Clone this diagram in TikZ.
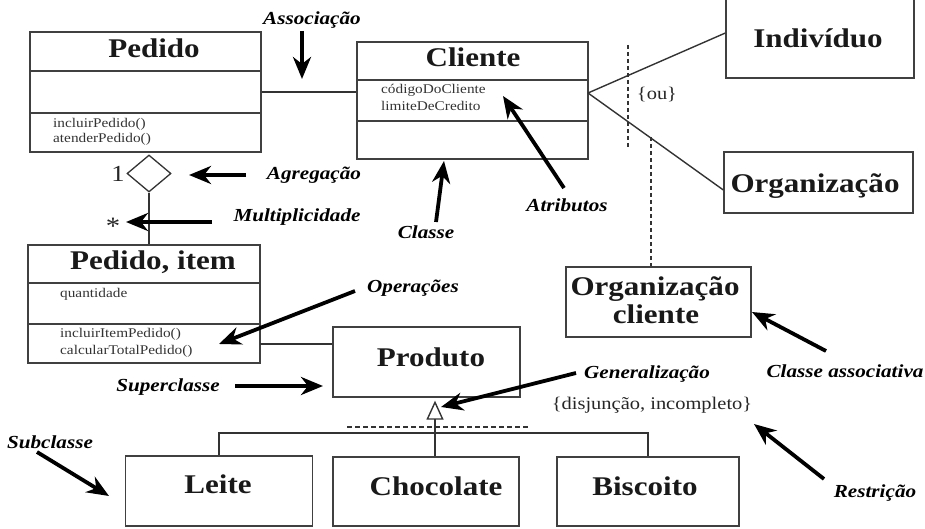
\documentclass[tikz,border=0pt]{standalone}
\usepackage{fontspec}
\setmainfont[FakeStretch=1.15]{Liberation Serif}
\usetikzlibrary{arrows.meta,shapes.geometric,calc}

\begin{document}
\begin{tikzpicture}[x=1pt,y=-1pt,
  line/.style={draw=black!75, line width=1.3pt},
  cls/.style={line, inner sep=0pt},
  title/.style={anchor=base, inner sep=0pt, font=\fontsize{27}{29}\selectfont\bfseries, text=black!90},
  member/.style={anchor=base west, inner sep=0pt, font=\fontsize{13.3}{15}\selectfont, text=black!80},
  note/.style={inner sep=0pt, font=\fontsize{18.4}{20}\selectfont\bfseries\itshape},
  cons/.style={inner sep=0pt, font=\fontsize{17.8}{19}\selectfont, text=black!85},
  pointer/.style={line width=3.8pt, -{Stealth[length=22pt,width=18pt,inset=7pt]}},
  link/.style={draw=black!80, line width=1.4pt},
  dashline/.style={draw=black!80, line width=1.6pt, dash pattern=on 4pt off 3pt},
  gen/.style={link, -{Triangle[open,length=19pt,width=17pt,fill=white]}, shorten >=3pt}]

\useasboundingbox (0,0) rectangle (925,529);
\clip (0,0) rectangle (925,529);

% ---------- class boxes ----------
\node[cls, minimum width=231pt, minimum height=120pt] (pedido) at (145.5,92) {};
\draw[line] (30,71) -- (261,71) (30,113) -- (261,113);
\node[title] (pedidoT) at (154,58) {Pedido};
\node[member] (pedidoOp1) at (53,128) {incluirPedido()};
\node[member] (pedidoOp2) at (53,143) {atenderPedido()};

\node[cls, minimum width=231pt, minimum height=117pt] (cliente) at (472.5,100.5) {};
\draw[line] (357,80) -- (588,80) (357,121) -- (588,121);
\node[title] (clienteT) at (473,67) {Cliente};
\node[member] (clienteA1) at (381,94) {códigoDoCliente};
\node[member] (clienteA2) at (381,111) {limiteDeCredito};

\node[cls, minimum width=188pt, minimum height=82pt] (individuo) at (820,37) {};
\node[title] (individuoT) at (818,48) {Indivíduo};

\node[cls, minimum width=189pt, minimum height=61pt] (organizacao) at (818.5,182.5) {};
\node[title] (organizacaoT) at (815,193) {Organização};

\node[cls, minimum width=232pt, minimum height=118pt] (item) at (144,304) {};
\draw[line] (28,283) -- (260,283) (28,324) -- (260,324);
\node[title] (itemT) at (153,269) {Pedido, item};
\node[member] (itemA1) at (60,297) {quantidade};
\node[member] (itemOp1) at (60,337) {incluirItemPedido()};
\node[member] (itemOp2) at (60,354) {calcularTotalPedido()};

\node[cls, minimum width=187pt, minimum height=70pt] (produto) at (426.5,362) {};
\node[title] (produtoT) at (431,366) {Produto};

\node[cls, minimum width=185pt, minimum height=70pt] (orgcliente) at (658.5,302) {};
\node[title] (orgclienteT1) at (655,295) {Organização};
\node[title] (orgclienteT2) at (656,323) {cliente};

\node[cls, minimum width=187pt, minimum height=70pt] (leite) at (219,491) {};
\node[title] (leiteT) at (218,493) {Leite};

\node[cls, minimum width=186pt, minimum height=69pt] (chocolate) at (426,491.5) {};
\node[title] (chocolateT) at (436,495) {Chocolate};

\node[cls, minimum width=182pt, minimum height=69pt] (biscoito) at (648,491.5) {};
\node[title] (biscoitoT) at (645,495) {Biscoito};

% ---------- associations ----------
\draw[link] (pedido.east) -- (pedido.east -| cliente.west);
\coordinate (itemLink) at (260,344);
\draw[link] (itemLink) -- (itemLink -| produto.west);

\coordinate (fork) at (588,93);
\draw[link] (fork) -- ($(individuo.west)+(0,-4)$);
\draw[link] (fork) -- ($(organizacao.west)+(0,7.5)$);

% {ou} constraint across the two associations
\coordinate (ouTop) at (628,45);
\coordinate (ouBot) at (628,147);
\draw[dashline] (ouTop) -- (ouBot);
\node[cons] (ou) at (657,95) {\{ou\}};

% association class
\coordinate (acPoint) at (651,137);
\draw[dashline] (acPoint) -- (acPoint |- orgcliente.north);

% aggregation
\node[draw=black!80, line width=1.3pt, diamond, inner sep=0pt,
      minimum width=44pt, minimum height=37pt] (agg) at (149,173.5) {};
\draw[link] (agg.south) -- (agg.south |- item.north);
\node[inner sep=0pt, font=\fontsize{23}{25}\selectfont, text=black!85] (one) at (118,174) {1};
\node[inner sep=0pt, font=\fontsize{25}{27}\selectfont, text=black!85] (many) at (113,226) {*};

% generalization tree
\coordinate (bus) at (435,433);
\draw[link] (leite.north) -- (leite.north |- bus) -- (biscoito.north |- bus) -- (biscoito.north);
\draw[gen] (chocolate.north -| bus) -- (produto.south -| bus);
\coordinate (djL) at (347,427);
\coordinate (djR) at (529,427);
\draw[dashline, line width=1.3pt, dash pattern=on 5pt off 3pt] (djL) -- (djR);
\node[cons] (disj) at (652,405) {\{disjunção, incompleto\}};

% ---------- annotation labels and pointers ----------
\node[note] (lAssoc) at (312,20) {Associação};
\coordinate (pAssocS) at (302,31);  \coordinate (pAssocE) at (302,79);
\draw[pointer] (pAssocS) -- (pAssocE);

\node[note] (lAgreg) at (314,175) {Agregação};
\coordinate (pAgregS) at (246,175); \coordinate (pAgregE) at (189,175);
\draw[pointer] (pAgregS) -- (pAgregE);

\node[note] (lMult) at (297,217) {Multiplicidade};
\coordinate (pMultS) at (212,222);  \coordinate (pMultE) at (126,222);
\draw[pointer] (pMultS) -- (pMultE);

\node[note] (lClasse) at (426,232) {Classe};
\coordinate (pClasseS) at (436,222); \coordinate (pClasseE) at (444,161);
\draw[pointer] (pClasseS) -- (pClasseE);

\node[note] (lAtrib) at (567,205) {Atributos};
\coordinate (pAtribS) at (564,188); \coordinate (pAtribE) at (503,96);
\draw[pointer] (pAtribS) -- (pAtribE);

\node[note] (lOper) at (413,288) {Operações};
\coordinate (pOperS) at (355,291);  \coordinate (pOperE) at (219,344);
\draw[pointer] (pOperS) -- (pOperE);

\node[note] (lSuper) at (168,387) {Superclasse};
\coordinate (pSuperS) at (235,386); \coordinate (pSuperE) at (323,386);
\draw[pointer] (pSuperS) -- (pSuperE);

\node[note] (lGen) at (647,374) {Generalização};
\coordinate (pGenS) at (576,373);   \coordinate (pGenE) at (441,407);
\draw[pointer] (pGenS) -- (pGenE);

\node[note] (lAssocCl) at (845,371) {Classe associativa};
\coordinate (pAcS) at (826,351);    \coordinate (pAcE) at (752,312);
\draw[pointer] (pAcS) -- (pAcE);

\node[note] (lRestr) at (875,493) {Restrição};
\coordinate (pRestrS) at (824,479); \coordinate (pRestrE) at (754,424);
\draw[pointer] (pRestrS) -- (pRestrE);

\node[note] (lSub) at (50,442) {Subclasse};
\coordinate (pSubS) at (37,452);    \coordinate (pSubE) at (109,496);
\draw[pointer] (pSubS) -- (pSubE);

\end{tikzpicture}
\end{document}
